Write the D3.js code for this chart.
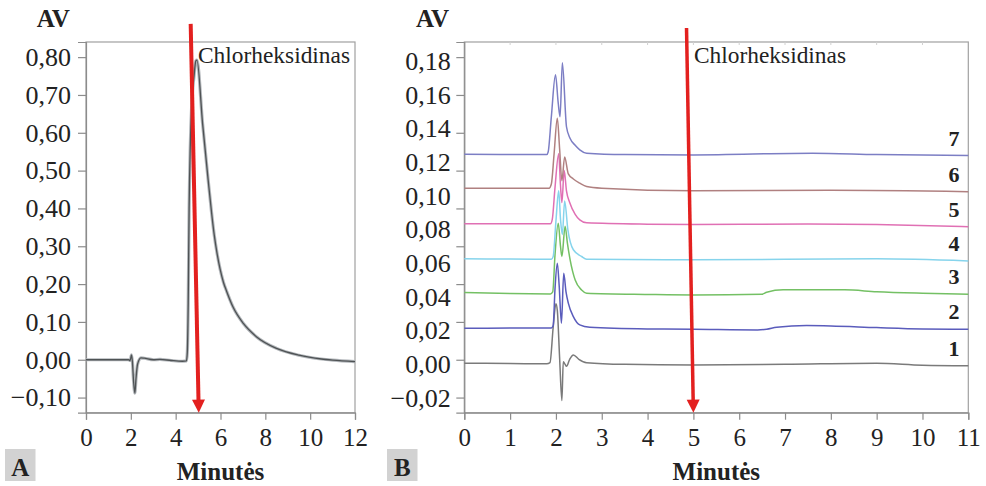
<!DOCTYPE html>
<html>
<head>
<meta charset="utf-8">
<script src="https://cdn.jsdelivr.net/npm/d3@7/dist/d3.min.js"></script>
<style>
  html, body { margin: 0; padding: 0; background: #fff; }
  svg { display: block; }
  text { font-family: "Liberation Serif", "Times New Roman", serif; fill: #222; }
</style>
</head>
<body>
<svg id="chart" width="986" height="486"></svg>
<script>
// ---------- DATA ----------
const aXTicks = [0, 2, 4, 6, 8, 10, 12];
const aYTicks = [-0.10, 0.00, 0.10, 0.20, 0.30, 0.40, 0.50, 0.60, 0.70, 0.80];
const bXTicks = [0, 1, 2, 3, 4, 5, 6, 7, 8, 9, 10, 11];
const bYTicks = [-0.02, 0.00, 0.02, 0.04, 0.06, 0.08, 0.10, 0.12, 0.14, 0.16, 0.18];

// Panel A chromatogram [minutes, AV]
const traceA = [
  [0, 0.000], [1.0, 0.000], [1.9, 0.000], [1.97, -0.002], [2.03, 0.013], [2.07, -0.005],
  [2.12, -0.055], [2.18, -0.088], [2.23, -0.05], [2.3, -0.012], [2.45, 0.005], [2.6, 0.004],
  [3.0, 0.000], [3.3, 0.001], [3.8, -0.002], [4.3, -0.004], [4.48, -0.003], [4.52, 0.02],
  [4.56, 0.15], [4.6, 0.40], [4.65, 0.56], [4.72, 0.68], [4.82, 0.75], [4.9, 0.79], [4.95, 0.792],
  [5.2, 0.625], [5.45, 0.475], [5.6, 0.39], [5.72, 0.33], [5.85, 0.28], [5.98, 0.24], [6.13, 0.205],
  [6.28, 0.18], [6.57, 0.138], [7.02, 0.096], [7.6, 0.061], [8.5, 0.030], [9.5, 0.012], [10.5, 0.002],
  [11.0, -0.001], [12, -0.005]
];

// Panel B chromatograms 1..7 [minutes, AV]
const trace1 = [[0,0.0007],[1.0,0.0005],[1.8,0.0003],[1.87,0.001],[1.94,0.022],[2.0,0.036],[2.03,0.032],
  [2.08,0.004],[2.13,-0.0215],[2.16,0.0016],[2.2,0.0],[2.23,-0.0012],[2.3,0.003],[2.38,0.0056],[2.5,0.003],
  [2.67,0.001],[3.5,0.0],[5,-0.0004],[7,0.0],[9,0.0007],[10,-0.0005],[11,-0.0008]];
const trace2 = [[0,0.0214],[1,0.0215],[1.9,0.0216],[1.94,0.023],[1.98,0.045],[2.03,0.060],[2.07,0.047],
  [2.12,0.0244],[2.17,0.054],[2.22,0.043],[2.27,0.0363],[2.38,0.0283],[2.52,0.0234],[2.74,0.022],[4,0.021],
  [5,0.0208],[6.4,0.0204],[6.6,0.0208],[6.82,0.022],[7.47,0.023],[8,0.0228],[9,0.0218],[10,0.021],[11,0.0208]];
const trace3 = [[0,0.0426],[1,0.042],[1.88,0.0418],[1.93,0.043],[1.98,0.065],[2.05,0.0837],[2.1,0.07],
  [2.13,0.064],[2.2,0.082],[2.25,0.072],[2.31,0.062],[2.42,0.050],[2.56,0.0441],[2.67,0.0422],[4,0.0415],
  [5,0.0412],[6.5,0.0416],[6.6,0.0428],[6.96,0.0442],[8.3,0.0442],[9,0.0431],[10,0.0422],[11,0.0416]];
const trace4 = [[0,0.0626],[1,0.0625],[1.9,0.0624],[1.94,0.064],[2.0,0.085],[2.06,0.103],[2.1,0.086],
  [2.14,0.077],[2.19,0.097],[2.26,0.080],[2.38,0.068],[2.56,0.064],[2.67,0.0624],[5,0.062],[9,0.0626],[11,0.0614]];
const trace5 = [[0,0.0835],[1,0.0835],[1.88,0.0834],[1.92,0.086],[1.98,0.105],[2.06,0.125],[2.1,0.106],
  [2.13,0.096],[2.18,0.115],[2.23,0.103],[2.3,0.096],[2.42,0.089],[2.52,0.0857],[2.67,0.084],[4,0.0832],
  [5,0.083],[7.5,0.0833],[9,0.083],[11,0.0817]];
const trace6 = [[0,0.1045],[1,0.1045],[1.85,0.1045],[1.9,0.107],[1.96,0.125],[2.03,0.146],[2.08,0.128],
  [2.13,0.109],[2.19,0.123],[2.27,0.113],[2.38,0.110],[2.52,0.1075],[2.67,0.1055],[3,0.1045],[5,0.103],
  [8,0.1033],[11,0.1025]];
const trace7 = [[0,0.1247],[1,0.1245],[1.8,0.1245],[1.83,0.126],[1.9,0.147],[1.99,0.1718],[2.05,0.155],
  [2.09,0.147],[2.14,0.179],[2.23,0.141],[2.31,0.134],[2.42,0.130],[2.52,0.1273],[2.67,0.1253],[3.5,0.1245],
  [5,0.1243],[7.6,0.1253],[9,0.1245],[11,0.1239]];

const bSeries = [
  { name: "1", data: trace1, color: "#7a7a7a" },
  { name: "2", data: trace2, color: "#5a5cbc" },
  { name: "3", data: trace3, color: "#74c064" },
  { name: "4", data: trace4, color: "#86d4ec" },
  { name: "5", data: trace5, color: "#e070b4" },
  { name: "6", data: trace6, color: "#b08080" },
  { name: "7", data: trace7, color: "#7c7ec4" }
];

// Annotation arrows [[x0, y0], [x1, y1]] in data units
const arrowA = [[4.67, 0.888], [5.03, -0.14]];
const arrowB = [[4.85, 0.1996], [5.0, -0.0287]];
const annotationText = "Chlorheksidinas";

// ---------- LAYOUT ----------
const svg = d3.select("#chart");
svg.append("rect").attr("width", 986).attr("height", 486).attr("fill", "#fff");

const boxTop = 42, boxBottom = 412.7;
const xA = d3.scaleLinear().domain([0, 12]).range([86, 355]);
const yA = d3.scaleLinear().domain([-0.14, 0.84]).range([boxBottom, boxTop]);
const xB = d3.scaleLinear().domain([0, 11]).range([464.3, 968.3]);
const yB = d3.scaleLinear().domain([-0.0287, 0.1913]).range([boxBottom, boxTop]);

const loc = d3.formatLocale({ decimal: ",", thousands: ".", grouping: [3], currency: ["", ""], minus: "\u2212" });
const fmt2 = loc.format(".2f");
const axisColor = "#8c8c8c";

function styleAxis(g, size) {
  g.select(".domain").attr("stroke", axisColor).attr("stroke-width", 1.2);
  g.selectAll(".tick line").attr("stroke", axisColor).attr("stroke-width", 1.2);
  g.selectAll(".tick text").attr("font-size", size || 25).attr("fill", "#222")
    .attr("font-family", '"Liberation Serif", "Times New Roman", serif');
}

// ---------- PANEL A ----------
const gA = svg.append("g");
gA.append("rect").attr("x", xA(0)).attr("y", boxTop).attr("width", xA(12) - xA(0)).attr("height", boxBottom - boxTop)
  .attr("fill", "none").attr("stroke", "#a0a0a0").attr("stroke-width", 1.2);

gA.append("g").attr("transform", `translate(0,${boxBottom})`)
  .call(d3.axisBottom(xA).tickValues(aXTicks).tickSize(7).tickPadding(8.5).tickFormat(d3.format("d")))
  .call(styleAxis, 25);
gA.append("g").attr("transform", `translate(${xA(0)},0)`)
  .call(d3.axisLeft(yA).tickValues(aYTicks).tickSize(8).tickPadding(7).tickFormat(fmt2))
  .call(styleAxis, 26);

const lineA = d3.line().x(d => xA(d[0])).y(d => yA(d[1])).curve(d3.curveMonotoneX);
gA.append("path").datum(traceA).attr("d", lineA).attr("fill", "none")
  .attr("stroke", "#b4b8bc").attr("stroke-width", 3.2).attr("stroke-linejoin", "round");
gA.append("path").datum(traceA).attr("d", lineA).attr("fill", "none")
  .attr("stroke", "#4e5254").attr("stroke-width", 1.3).attr("stroke-linejoin", "round");

// ---------- PANEL B ----------
const gB = svg.append("g");
gB.append("rect").attr("x", xB(0)).attr("y", boxTop).attr("width", xB(11) - xB(0)).attr("height", boxBottom - boxTop)
  .attr("fill", "none").attr("stroke", "#a0a0a0").attr("stroke-width", 1.2);
gB.append("g").selectAll("line").data(bXTicks.slice(1, -1)).join("line")
  .attr("x1", d => xB(d)).attr("x2", d => xB(d)).attr("y1", boxTop).attr("y2", boxTop + 3)
  .attr("stroke", "#d0d0d0").attr("stroke-width", 1);

gB.append("g").attr("transform", `translate(0,${boxBottom})`)
  .call(d3.axisBottom(xB).tickValues(bXTicks).tickSize(7).tickPadding(8.5).tickFormat(d3.format("d")))
  .call(styleAxis, 25);
gB.append("g").attr("transform", `translate(${xB(0)},0)`)
  .call(d3.axisLeft(yA).tickValues(aYTicks).tickSize(8).tickFormat(""))
  .call(styleAxis, 26);
gB.append("g").attr("transform", `translate(${xB(0)},0)`)
  .call(d3.axisLeft(yB).tickValues(bYTicks).tickSize(0).tickPadding(13.6).tickFormat(fmt2))
  .call(styleAxis, 26)
  .call(g => g.select(".domain").remove());

const lineB = d3.line().x(d => xB(d[0])).y(d => yB(d[1])).curve(d3.curveMonotoneX);
gB.append("g").selectAll("path").data(bSeries).join("path")
  .attr("d", d => lineB(d.data)).attr("fill", "none")
  .attr("stroke", d => d.color).attr("stroke-width", 1.5).attr("stroke-linejoin", "round");

gB.append("g").selectAll("text").data(bSeries).join("text")
  .attr("x", 959.5).attr("y", d => yB(d.data[d.data.length - 1][1]) - 10)
  .attr("text-anchor", "end").attr("font-size", 22).attr("font-weight", "bold").attr("fill", "#1a1a1a")
  .text(d => d.name);

// ---------- ARROWS ----------
function drawArrow(g, pts, xs, ys, w) {
  const x0 = xs(pts[0][0]), y0 = ys(pts[0][1]), x1 = xs(pts[1][0]), y1 = ys(pts[1][1]);
  const dx = x1 - x0, dy = y1 - y0, len = Math.hypot(dx, dy);
  const ux = dx / len, uy = dy / len, headL = 13, headW = 6.5;
  const bx = x1 - ux * headL, by = y1 - uy * headL;
  g.append("line").attr("x1", x0).attr("y1", y0).attr("x2", bx + ux * 1).attr("y2", by + uy * 1)
    .attr("stroke", "#e3201f").attr("stroke-width", w);
  g.append("polygon")
    .attr("points", [[x1, y1], [bx - uy * headW, by + ux * headW], [bx + uy * headW, by - ux * headW]].map(p => p.join(",")).join(" "))
    .attr("fill", "#e3201f");
}
drawArrow(svg, arrowA, xA, yA, 4);
drawArrow(svg, arrowB, xB, yB, 3.5);

// ---------- TEXTS ----------
svg.append("text").attr("x", 198).attr("y", 63).attr("font-size", 23.4).text(annotationText);
svg.append("text").attr("x", 694).attr("y", 63).attr("font-size", 23.4).text(annotationText);

[[53.3, "AV"], [432.5, "AV"]].forEach(([x, t]) => {
  svg.append("text").attr("x", x).attr("y", 27).attr("text-anchor", "middle")
    .attr("font-size", 25).attr("font-weight", "bold").attr("fill", "#1a1a1a").text(t);
});
[[(xA(0) + xA(12)) / 2], [(xB(0) + xB(11)) / 2]].forEach(([x]) => {
  svg.append("text").attr("x", x).attr("y", 480).attr("text-anchor", "middle")
    .attr("font-size", 25).attr("font-weight", "bold").attr("fill", "#1a1a1a").text("Minutės");
});
[[5, "A"], [387, "B"]].forEach(([x, t]) => {
  svg.append("rect").attr("x", x).attr("y", 449).attr("width", 30.5).attr("height", 32).attr("fill", "#d2d2d2");
  svg.append("text").attr("x", x + 15.25).attr("y", 475.5).attr("text-anchor", "middle")
    .attr("font-size", 25).attr("font-weight", "bold").attr("fill", "#1a1a1a").text(t);
});
</script>
</body>
</html>
